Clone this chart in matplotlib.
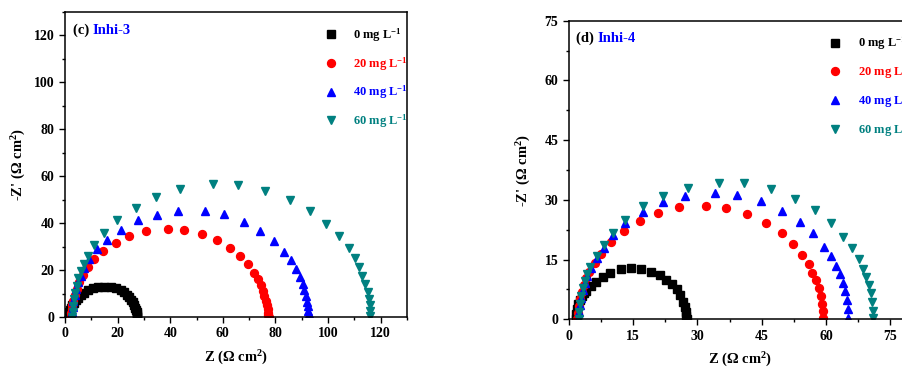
import matplotlib
matplotlib.use('Agg')
import matplotlib.pyplot as plt
from matplotlib.ticker import MultipleLocator

plt.rcParams['font.family'] = ['Liberation Serif', 'DejaVu Serif']
plt.rcParams['font.weight'] = 'bold'
plt.rcParams['mathtext.default'] = 'regular'

labels = ['0 mg L$^{-1}$', '20 mg L$^{-1}$', '40 mg L$^{-1}$', '60 mg L$^{-1}$']
colors = ['black', '#ff0000', '#0000ff', '#008080']
markers = ['s', 'o', '^', 'v']

# (c) Inhi-3
c_x0 = [1.2, 1.3, 1.5, 1.8, 2.2, 2.7, 3.3, 4.0, 4.9, 6.0, 7.3, 8.8, 10.6, 12.7, 15.0, 17.3, 19.4, 21.1,
        22.5, 23.6, 24.5, 25.2, 25.8, 26.3, 26.7, 27.0, 27.2, 27.4, 27.5, 27.5]
c_y0 = [0, 1.0, 2.0, 3.0, 4.0, 5.0, 6.1, 7.1, 8.2, 9.3, 10.4, 11.4, 12.2, 12.7, 12.9, 12.7, 12.2, 11.4,
        10.5, 9.5, 8.4, 7.3, 6.2, 5.1, 4.0, 3.0, 2.1, 1.3, 0.6, 0.1]
c_x20 = [2.2, 2.3, 2.5, 2.8, 3.2, 3.7, 4.4, 5.3, 6.7, 8.6, 11.1, 14.6, 19.2, 24.4, 30.8, 39.0, 45.2, 52.0,
         57.8, 62.7, 66.7, 69.6, 71.8, 73.4, 74.4, 75.2, 75.8, 76.3, 76.7, 77.0, 77.2, 77.3, 77.4]
c_y20 = [0, 1.5, 3.2, 5.0, 7.0, 9.2, 11.8, 15.0, 17.9, 21.4, 24.5, 28.0, 31.6, 34.6, 36.5, 37.5, 37.0, 35.3,
         32.7, 29.5, 25.9, 22.4, 18.8, 16.0, 13.5, 11.1, 8.9, 6.8, 4.9, 3.2, 1.8, 0.8, 0.1]
c_x40 = [2.6, 2.7, 2.9, 3.2, 3.7, 4.3, 5.0, 5.9, 7.1, 9.2, 12.0, 16.1, 21.2, 27.9, 35.0, 43.0, 53.2, 60.5,
         68.1, 74.3, 79.4, 83.2, 85.8, 87.7, 89.3, 90.3, 91.0, 91.6, 92.0, 92.3, 92.5, 92.6, 92.6]
c_y40 = [0, 2.0, 4.2, 6.6, 9.2, 11.9, 14.7, 17.6, 20.8, 24.5, 28.8, 33.0, 37.0, 41.2, 43.6, 45.0, 45.0, 43.8,
         40.5, 36.7, 32.3, 27.8, 24.2, 20.3, 17.1, 14.0, 11.3, 8.8, 6.5, 4.5, 2.7, 1.2, 0.2]
c_x60 = [2.8, 2.9, 3.1, 3.4, 3.8, 4.4, 5.1, 6.0, 7.2, 8.8, 11.1, 14.9, 19.9, 26.8, 34.6, 43.9, 56.1, 65.6,
         76.2, 85.5, 93.0, 99.4, 104.2, 107.9, 110.1, 111.8, 113.0, 114.2, 115.0, 115.5, 115.8, 116.0, 116.0]
c_y60 = [0, 2.3, 4.8, 7.5, 10.4, 13.4, 16.5, 19.5, 22.7, 25.9, 30.6, 36.0, 41.2, 46.6, 51.1, 54.4, 56.5, 56.4,
         53.7, 50.0, 45.0, 39.8, 34.4, 29.5, 25.0, 21.1, 17.4, 14.0, 10.8, 7.8, 5.0, 2.5, 0.3]

# (d) Inhi-4
d_x0 = [1.6, 1.7, 1.9, 2.2, 2.6, 3.1, 3.6, 4.1, 5.1, 6.4, 7.9, 9.7, 12.2, 14.6, 16.8, 19.1, 21.2, 22.7,
        24.1, 25.2, 26.0, 26.7, 27.1, 27.3, 27.4, 27.5]
d_y0 = [0, 1.3, 2.6, 3.8, 4.9, 5.9, 6.6, 7.1, 8.3, 9.4, 10.7, 11.7, 12.6, 12.8, 12.6, 12.0, 11.1, 9.9,
        8.8, 7.6, 6.2, 4.4, 3.0, 1.8, 0.8, 0.1]
d_x20 = [2.0, 2.1, 2.3, 2.6, 3.0, 3.5, 4.1, 4.8, 6.0, 7.6, 9.9, 12.8, 16.5, 20.8, 25.7, 31.9, 36.7, 41.6,
         45.9, 49.6, 52.3, 54.3, 55.9, 56.8, 57.7, 58.3, 58.7, 59.0, 59.2, 59.3]
d_y20 = [0, 1.6, 3.3, 5.0, 6.8, 8.6, 10.3, 12.0, 14.1, 16.5, 19.5, 22.2, 24.8, 26.8, 28.1, 28.5, 28.0, 26.5,
         24.3, 21.6, 18.9, 16.2, 13.8, 11.7, 9.8, 7.9, 5.9, 3.9, 2.0, 0.3]
d_x40 = [2.2, 2.3, 2.5, 2.8, 3.2, 3.7, 4.3, 5.2, 6.5, 8.2, 10.3, 13.0, 17.4, 21.9, 27.2, 34.1, 39.3, 44.9,
         49.8, 53.8, 57.0, 59.4, 61.1, 62.4, 63.2, 64.0, 64.5, 64.9, 65.1, 65.2]
d_y40 = [0, 1.8, 3.6, 5.4, 7.3, 9.2, 11.0, 13.0, 15.4, 18.0, 21.2, 24.3, 27.0, 29.4, 31.0, 31.8, 31.2, 29.7,
         27.3, 24.5, 21.6, 18.2, 15.9, 13.5, 11.3, 9.2, 7.0, 4.8, 2.6, 0.4]
d_x60 = [2.3, 2.4, 2.6, 2.9, 3.3, 3.8, 4.3, 5.0, 6.5, 8.1, 10.3, 13.0, 17.4, 21.9, 27.8, 35.0, 40.8, 47.1,
         52.7, 57.3, 61.1, 63.9, 66.0, 67.6, 68.6, 69.4, 70.0, 70.4, 70.7, 70.9, 71.0]
d_y60 = [0, 1.9, 3.8, 5.8, 7.8, 9.7, 11.5, 13.2, 15.8, 18.6, 21.7, 24.9, 28.4, 31.0, 33.1, 34.2, 34.2, 32.7,
         30.2, 27.5, 24.1, 20.7, 17.8, 15.1, 12.7, 10.7, 8.6, 6.5, 4.3, 2.2, 0.3]

panels = [
    dict(tag='(c) ', name='Inhi-3', xs=[c_x0, c_x20, c_x40, c_x60], ys=[c_y0, c_y20, c_y40, c_y60],
         xlim=130, ylim=130, major=20, minor=10, xticks=[0, 20, 40, 60, 80, 100, 120],
         pos=[0.072, 0.141, 0.3787, 0.8266], ypad=4),
    dict(tag='(d) ', name='Inhi-4', xs=[d_x0, d_x20, d_x40, d_x60], ys=[d_y0, d_y20, d_y40, d_y60],
         xlim=80, ylim=75, major=15, minor=7.5, xticks=[0, 15, 30, 45, 60, 75],
         pos=[0.630, 0.1347, 0.3798, 0.809], ypad=8),
]

fig = plt.figure(figsize=(9.03, 3.69), dpi=100)

for p in panels:
    ax = fig.add_axes(p['pos'])
    for x, y, c, m, lab in zip(p['xs'], p['ys'], colors, markers, labels):
        ax.plot(x, y, ls='none', marker=m, color=c, markersize=5.7, label=lab)
    ax.set_xlim(0, p['xlim'])
    ax.set_ylim(0, p['ylim'])
    ax.set_xticks(p['xticks'])
    ax.yaxis.set_major_locator(MultipleLocator(p['major']))
    ax.xaxis.set_minor_locator(MultipleLocator(p['minor']))
    ax.yaxis.set_minor_locator(MultipleLocator(p['minor']))
    ax.tick_params(which='major', direction='out', length=4, width=1, labelsize=10)
    ax.tick_params(which='minor', direction='out', length=2.5, width=1)
    for s in ax.spines.values():
        s.set_linewidth(1.1)
    ax.set_xlabel('Z (Ω cm$^{2}$)', fontsize=10.5, fontweight='bold', labelpad=6)
    ax.set_ylabel("-Z' (Ω cm$^{2}$)", fontsize=10.5, fontweight='bold', labelpad=p['ypad'])

    leg = ax.legend(loc='upper left', bbox_to_anchor=(0.74, 0.97), frameon=False,
                    fontsize=9, handlelength=1.2, handletextpad=1.2, labelspacing=0.9,
                    borderaxespad=0)
    for t, c in zip(leg.get_texts(), colors):
        t.set_color(c)
        t.set_fontweight('bold')

    t1 = ax.text(0.022, 0.94, p['tag'], transform=ax.transAxes, fontsize=10.5,
                 fontweight='bold', va='center', ha='left')
    ax.annotate(p['name'], xy=(1, 0), xycoords=t1, va='bottom', ha='left',
                fontsize=10.5, fontweight='bold', color='#0000ff')

fig.savefig('out.png', dpi=100)
